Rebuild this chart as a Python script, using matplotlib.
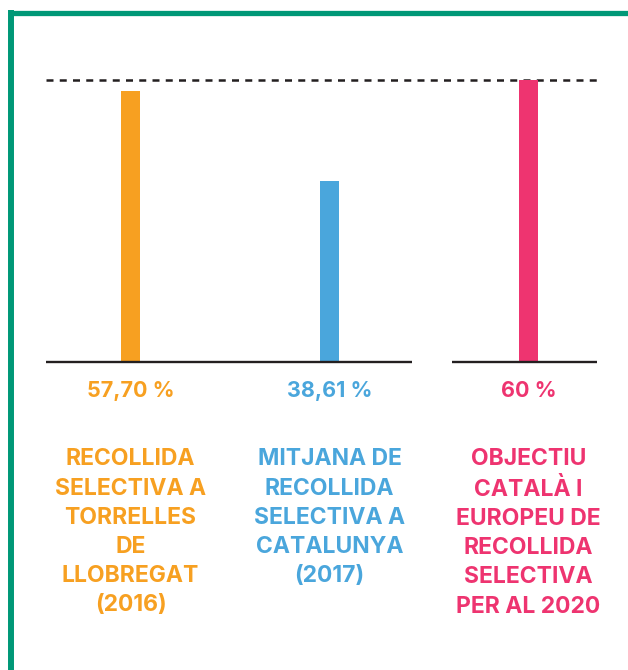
import matplotlib
matplotlib.use("Agg")
import matplotlib.pyplot as plt
from matplotlib.lines import Line2D

# data
labels = [
    "RECOLLIDA\nSELECTIVA A\nTORRELLES\nDE\nLLOBREGAT\n(2016)",
    "MITJANA DE\nRECOLLIDA\nSELECTIVA A\nCATALUNYA\n(2017)",
    "OBJECTIU\nCATALÀ I\nEUROPEU DE\nRECOLLIDA\nSELECTIVA\nPER AL 2020",
]
values = [57.70, 38.61, 60]
value_text = ["57,70 %", "38,61 %", "60 %"]
target = 60
colors = ["#F7A021", "#4AA6DC", "#EE3470"]
border_color = "#009877"

plt.rcParams['font.family'] = ['Inter', 'DejaVu Sans']

fig = plt.figure(figsize=(6.28, 6.70), dpi=100)
ax = fig.add_axes([0, 0, 1, 1])
ax.axis('off')

# scale: 199 px per category, 4.7 px per percentage point, baseline at 362 px
ax.set_xlim(-130.5 / 199, (628 - 130.5) / 199)
ax.set_ylim(-(670 - 362) / 4.7, 362 / 4.7)

x = list(range(len(values)))
ax.bar(x, values, width=0.095, color=colors, zorder=2)

# baselines (first two share one line, target gets its own)
ax.hlines(0, -0.425, 1.415, color="#231F20", lw=1.7, zorder=3)
ax.hlines(0, 1.616, 2.344, color="#231F20", lw=1.7, zorder=3)

# target dashed line
ax.hlines(target, -0.425, 2.349, color="#231F20", lw=1.8,
          linestyles=(0, (2.8, 2.5)), zorder=1)

for xi, v, t, lab, c in zip(x, values, value_text, labels, colors):
    ax.text(xi, -6.2, t, ha='center', va='center', color=c,
            fontsize=15.5, fontweight='bold')
    ax.text(xi, -18.4, lab, ha='center', va='top', color=c,
            fontsize=16.5, fontweight='bold', linespacing=1.42)

# green frame on top and left
fig.add_artist(Line2D([8.5 / 628, 1], [1 - 12.5 / 670, 1 - 12.5 / 670],
                      transform=fig.transFigure, color=border_color, lw=3.8,
                      solid_capstyle='butt'))
fig.add_artist(Line2D([11 / 628, 11 / 628], [0, 1 - 10 / 670],
                      transform=fig.transFigure, color=border_color, lw=4.3,
                      solid_capstyle='butt'))

fig.savefig("out.png", dpi=100)
